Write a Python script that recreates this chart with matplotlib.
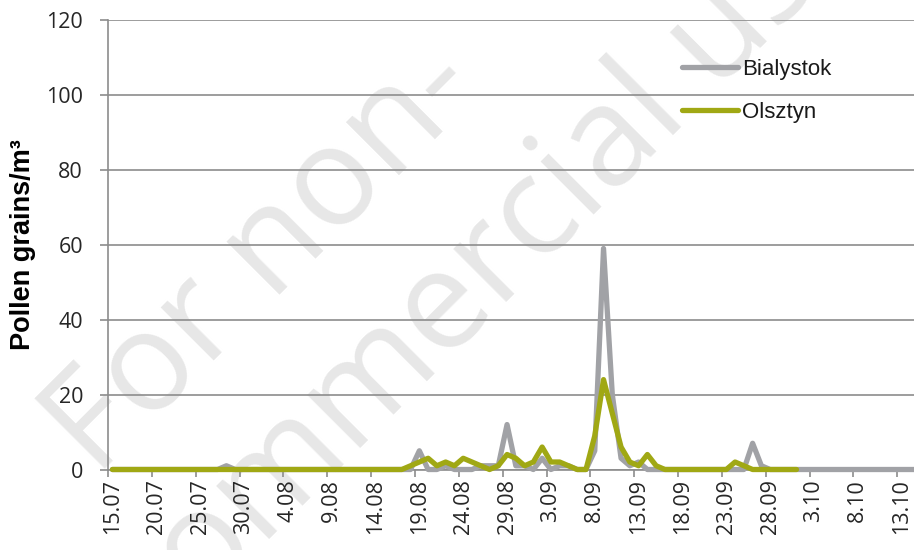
# Daily pollen counts, Bialystok vs Olsztyn, 15.07 - 13.10

import matplotlib
matplotlib.use("Agg")
import matplotlib.pyplot as plt
import numpy as np

# Data
# x tick labels, one every 5 days from 15.07
tick_labels = ["15.07", "20.07", "25.07", "30.07", "4.08", "9.08", "14.08",
               "19.08", "24.08", "29.08", "3.09", "8.09", "13.09", "18.09",
               "23.09", "28.09", "3.10", "8.10", "13.10"]

# daily values (index 0 = 15.07)
bialystok = [0, 0, 0, 0, 0, 0, 0, 0, 0, 0, 0, 0, 0, 1, 0, 0, 0, 0, 0, 0,
             0, 0, 0, 0, 0, 0, 0, 0, 0, 0, 0, 0, 0, 0, 0, 5, 0, 0, 1, 0,
             0, 0, 1, 1, 1, 12, 1, 1, 0, 3, 0, 1, 1, 0, 0, 5, 59, 20, 3, 1,
             2, 0, 0, 0, 0, 0, 0, 0, 0, 0, 0, 0, 0, 7, 1, 0, 0, 0, 0, 0,
             0, 0, 0, 0, 0, 0, 0, 0, 0, 0, 0, 0, 0]
olsztyn = [0, 0, 0, 0, 0, 0, 0, 0, 0, 0, 0, 0, 0, 0, 0, 0, 0, 0, 0, 0,
           0, 0, 0, 0, 0, 0, 0, 0, 0, 0, 0, 0, 0, 0, 1, 2, 3, 1, 2, 1,
           3, 2, 1, 0, 1, 4, 3, 1, 2, 6, 2, 2, 1, 0, 0, 9, 24, 15, 6, 2,
           1, 4, 1, 0, 0, 0, 0, 0, 0, 0, 0, 2, 1, 0, 0, 0, 0, 0, 0]

# Styles
c_grey = "#a1a2a6"
c_green = "#a0a814"
c_grid = "#8c8c8c"
c_text = "#262626"
c_mark = "#e7e7e7"
W, H = 914, 550

fig = plt.figure(figsize=(W / 100, H / 100), dpi=100)
fig.patch.set_facecolor("white")

# watermark behind the chart
fig.text(96 / W, 1 - 478 / H, "For non-", rotation=45, rotation_mode="anchor",
         ha="left", va="baseline", fontsize=100, family="Open Sans",
         color=c_mark, zorder=-5)
fig.text(155 / W, 1 - 653 / H, "commercial use", rotation=45,
         rotation_mode="anchor", ha="left", va="baseline", fontsize=100,
         family="Open Sans", color=c_mark, zorder=-5)

ax = fig.add_axes([108 / W, 80.5 / H, 806 / W, 449.5 / H])
ax.patch.set_visible(False)

x_b = np.arange(len(bialystok))
x_o = np.arange(len(olsztyn))
ax.plot(x_b, bialystok, color=c_grey, lw=3.8, solid_capstyle="round",
        solid_joinstyle="round", clip_on=False, label="Bialystok", zorder=3)
ax.plot(x_o, olsztyn, color=c_green, lw=3.8, solid_capstyle="round",
        solid_joinstyle="round", clip_on=False, label="Olsztyn", zorder=4)

ax.set_xlim(-0.5, 91.4)
ax.set_ylim(0, 120)

# labels on categories, tick marks on category boundaries
ax.set_xticks(np.arange(0, 91, 5))
ax.set_xticklabels(tick_labels, rotation=90, family="Open Sans",
                   fontsize=15.5, color=c_text)
ax.set_xticks(np.arange(-0.5, 90, 5), minor=True)
ax.tick_params(axis="x", which="major", length=0, pad=7)
ax.tick_params(axis="x", which="minor", length=5, width=1.2, color=c_grid,
               direction="out")

ax.set_yticks(np.arange(0, 121, 20))
ax.tick_params(axis="y", length=6, width=1.2, color=c_grid, pad=12,
               labelsize=15.5, labelcolor=c_text)
for lab in ax.get_yticklabels():
    lab.set_family("Open Sans")

for s in ["top", "right"]:
    ax.spines[s].set_visible(False)
for s in ["left", "bottom"]:
    ax.spines[s].set_color(c_grid)
    ax.spines[s].set_linewidth(1.2)

ax.yaxis.grid(True, color=c_grid, lw=1.2)
ax.set_axisbelow(True)

fig.text(23 / W, 1 - 245 / H, "Pollen grains/m³", rotation=90, ha="center",
         va="center", fontsize=19.5, fontweight="bold",
         family="Liberation Sans", color="black")

leg = ax.legend(loc="center left", bbox_to_anchor=(682 / W, 1 - 91 / H),
                bbox_transform=fig.transFigure, frameon=False, borderpad=0,
                borderaxespad=0, handlelength=2.5, handletextpad=0.2,
                labelspacing=1.0, prop={"family": "Liberation Sans", "size": 16})
for t in leg.get_texts():
    t.set_color("#1a1a1a")

plt.savefig("out.png", dpi=100)
